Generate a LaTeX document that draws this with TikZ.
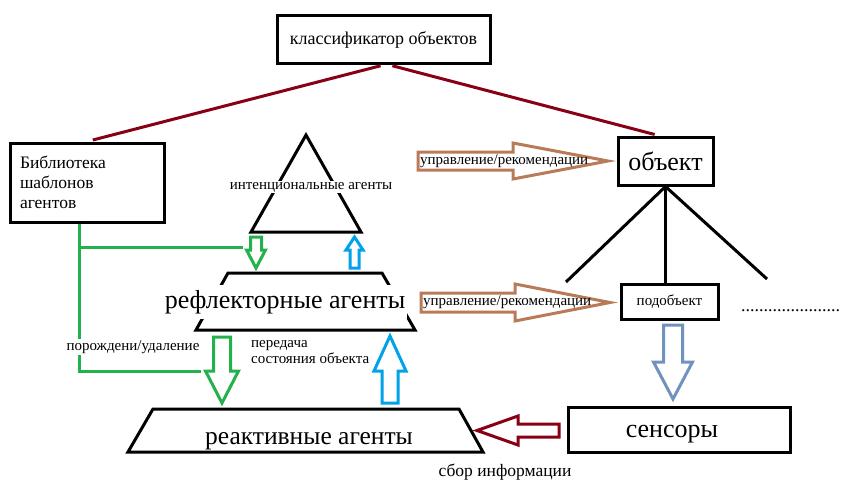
\documentclass[tikz,border=0pt]{standalone}
\usepackage{fontspec}
\setmainfont{Liberation Serif}
\usetikzlibrary{shapes.geometric, positioning}
\definecolor{LNred}{RGB}{136,0,21}
\definecolor{LNgreen}{RGB}{34,177,76}
\definecolor{LNblue}{RGB}{0,162,232}
\definecolor{LNbrown}{RGB}{185,122,87}
\definecolor{LNsteel}{RGB}{112,146,190}

% hollow block arrows: colour, axis, tail, head base, tip, shaft half width, head half width
\newcommand{\vblock}[7]{%
  \draw[#1, line width=3pt, fill=white] (#2-#6,#3) -- (#2-#6,#4) -- (#2-#7,#4) -- (#2,#5)
    -- (#2+#7,#4) -- (#2+#6,#4) -- (#2+#6,#3) -- cycle;}
\newcommand{\hblock}[7]{%
  \draw[#1, line width=3pt, fill=white] (#3,#2-#6) -- (#4,#2-#6) -- (#4,#2-#7) -- (#5,#2)
    -- (#4,#2+#7) -- (#4,#2+#6) -- (#3,#2+#6) -- cycle;}
\newcommand{\fsz}[1]{\fontsize{#1}{#1}\selectfont}

\begin{document}
\begin{tikzpicture}[x=1pt, y=-1pt,
    box/.style={draw, line width=3pt, inner sep=0pt},
    level/.style={line width=3pt, line join=miter},
    lbl/.style={inner sep=1pt, font=\fsz{15}},
    big/.style={font=\fsz{26}},
    tie/.style={LNred, line width=3pt},
    twig/.style={black, line width=3pt},
    feed/.style={LNgreen, line width=3pt}]
  \useasboundingbox (0,0) rectangle (841,482);

  % classifier and what it knows about
  \node[box, minimum width=213pt, minimum height=48pt, font=\fsz{18}] (class) at (383.5,39.5) {классификатор объектов};
  \node[box, minimum width=154pt, minimum height=79pt, text width=134pt, align=left,
        font=\fontsize{17.5}{20}\selectfont] (lib) at (87,182.5) {Библиотека\\шаблонов\\агентов};
  \node[box, minimum width=95pt, minimum height=48pt, big] (obj) at (665.5,161) {объект};
  \draw[tie, shorten <=3pt, shorten >=6pt] (class.south) -- (lib.north);
  \draw[tie, shorten <=3pt, shorten >=4pt] ([xshift=6pt]class.south) -- ([xshift=-7pt]obj.north);

  % object tree
  \node[box, minimum width=97pt, minimum height=35pt, font=\fsz{15}] (sub) at (669.5,301.5) {подобъект};
  \coordinate (leftbr) at (566,282);
  \coordinate (rightbr) at (767,279);
  \draw[twig] (obj.south) -- (leftbr);
  \draw[twig] (obj.south) -- (obj.south |- sub.north);
  \draw[twig] (obj.south) -- (rightbr);
  \node[anchor=base west, inner sep=0pt, font=\fsz{18}] (more) at (741,311) {......................};
  \node[box, minimum width=222pt, minimum height=45pt] (sens) at (679,429.5) {};
  \node[big] (senstxt) at (672,434) {сенсоры};

  % agent levels
  \draw[level] (306,135) coordinate (tritop) -- (361,232) coordinate (triright)
    -- (251,232) coordinate (trileft) -- cycle;
  \node[lbl, fill=white] (intent) at (311,187) {интенциональные агенты};
  \draw[level] (228,273) coordinate (reflexnw) -- (382,273) coordinate (reflexne)
    -- (415,330) coordinate (reflexse) -- (196,330) coordinate (reflexsw) -- cycle;
  \node[big, fill=white, inner sep=2pt, minimum height=34pt] (reflex) at (285,302) {рефлекторные агенты};
  \draw[level] (153,409) coordinate (reactnw) -- (459,409) coordinate (reactne)
    -- (483,452) coordinate (reactse) -- (128,452) coordinate (reactsw) -- cycle;
  \node[big, font=\fsz{25.5}] (react) at (309,441) {реактивные агенты};

  % spawning agents from the library
  \draw[feed] ([xshift=-8pt]lib.south) -- (79,371) -- (201,371);
  \draw[feed] (79,247) -- (243,247);
  \node[lbl, fill=white] (spawn) at (133,347) {порождени/удаление};

  % flows between levels
  \vblock{LNgreen}{256}{237}{250}{268}{5.5}{9.5}
  \vblock{LNblue}{354.5}{268}{250}{237}{4.5}{8.5}
  \vblock{LNgreen}{222}{337}{371}{403}{8.5}{16.5}
  \vblock{LNblue}{390}{403}{371}{336}{8}{16}
  \node[lbl, align=left, anchor=north west, font=\fontsize{15}{16}\selectfont] (state) at (250,339) {передача\\состояния объекта};

  % control of the object
  \hblock{LNbrown}{161}{418}{513}{608}{9}{18}
  \node[lbl, anchor=west] (ctrltop) at (419,161) {управление/рекомендации};
  \hblock{LNbrown}{302.5}{421}{515}{610}{9.5}{18.5}
  \node[lbl, anchor=west] (ctrlmid) at (422,302.5) {управление/рекомендации};

  % sensing
  \vblock{LNsteel}{673}{325}{362}{399}{9.5}{19.5}
  \hblock{LNred}{430.5}{559}{518}{477}{6.5}{14.5}
  \node[lbl, font=\fsz{17.5}] (gather) at (505,472) {сбор информации};
\end{tikzpicture}
\end{document}
